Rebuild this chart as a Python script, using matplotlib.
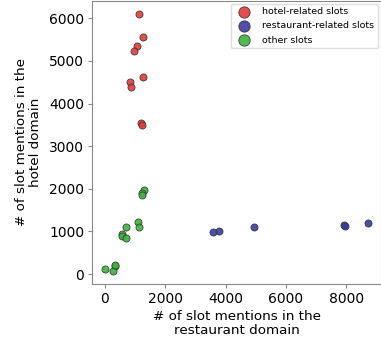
import numpy as np
import matplotlib
matplotlib.use("Agg")
import matplotlib.pyplot as plt

# slot mention counts (restaurant domain, hotel domain)
hotel_x = [1143, 1264, 1078, 980, 1264, 839, 872, 1208, 1231]
hotel_y = [6110, 5549, 5354, 5222, 4623, 4506, 4397, 3542, 3495]

rest_x = [3592, 3768, 4944, 7915, 7958, 8709]
rest_y = [996, 1020, 1105, 1150, 1125, 1200]

other_x = [1306, 1221, 1241, 1100, 1123, 699, 555, 578, 709, 13, 327, 274, 349]
other_y = [1969, 1907, 1861, 1230, 1105, 1105, 941, 887, 848, 117, 179, 70, 210]

fig = plt.figure(figsize=(3.81, 3.43), dpi=100)
ax = fig.add_axes([0.2415, 0.172, 0.7585, 0.826])

kw = dict(s=26, edgecolors='#333333', linewidths=0.6, alpha=0.9)
ax.scatter(hotel_x, hotel_y, c='#e03c3c', label='hotel-related slots', **kw)
ax.scatter(rest_x, rest_y, c='#3c3ca0', label='restaurant-related slots', **kw)
ax.scatter(other_x, other_y, c='#3cb43c', label='other slots', **kw)

ax.set_xticks([0, 2000, 4000, 6000, 8000])
ax.set_yticks([0, 1000, 2000, 3000, 4000, 5000, 6000])
ax.tick_params(labelsize=10, length=3, pad=2.5, color='#888888')
for sp in ax.spines.values():
    sp.set_color('#888888')

ax.set_xlabel('# of slot mentions in the\nrestaurant domain', fontsize=9.7, labelpad=3,
              linespacing=1.1)
ax.set_ylabel('# of slot mentions in the\nhotel domain', fontsize=9.7, labelpad=5,
              linespacing=1.1)

ax.legend(loc='upper right', fontsize=6.8, markerscale=1.6, handletextpad=0.9,
          borderaxespad=0.3, labelspacing=0.55, framealpha=1.0, edgecolor='#dddddd')

fig.savefig('out.png', dpi=100)
